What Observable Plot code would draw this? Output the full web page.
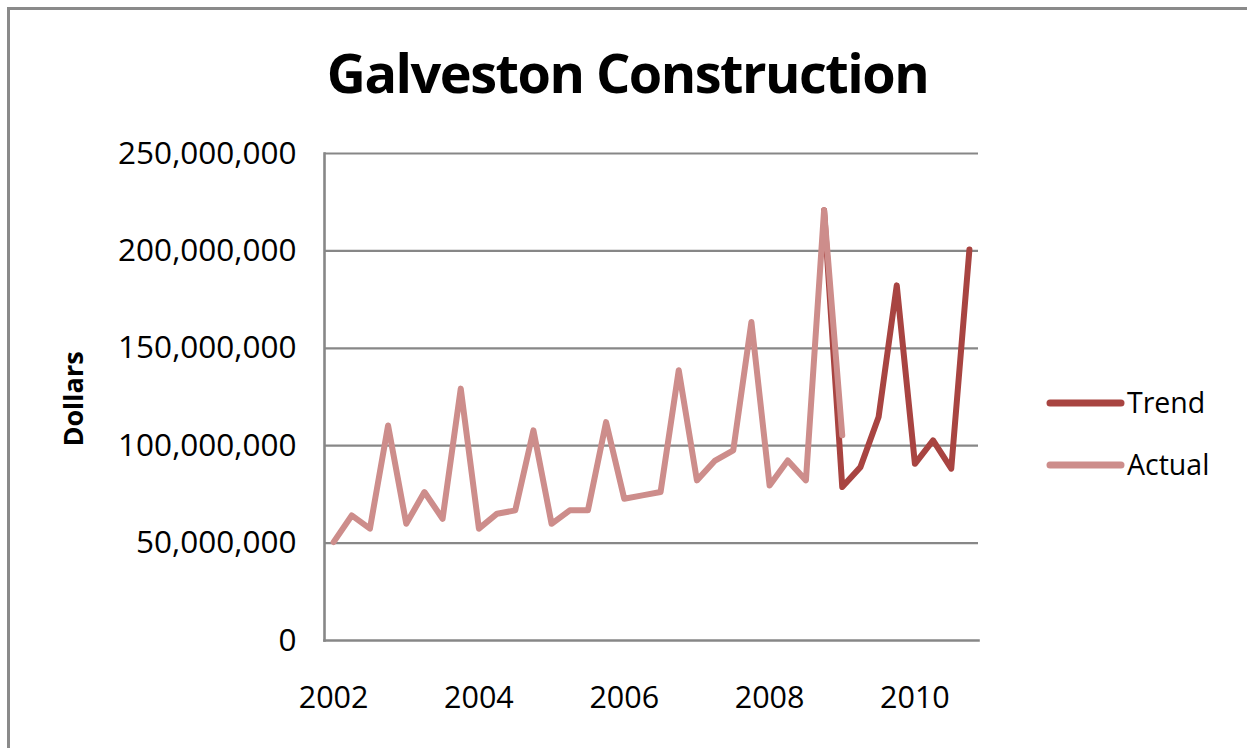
<!DOCTYPE html>
<html>
<head>
<meta charset="utf-8">
<script src="https://cdn.jsdelivr.net/npm/d3@7"></script>
<script src="https://cdn.jsdelivr.net/npm/@observablehq/plot@0.6"></script>
<style>
  html, body { margin: 0; padding: 0; background: #fff; }
  #chart { position: relative; width: 1247px; height: 748px; overflow: hidden; font-family: "Open Sans", sans-serif; }
  #border { position: absolute; left: 7px; top: 7px; width: 1300px; height: 800px; border-left: 3px solid #8a8a8a; border-top: 3px solid #8a8a8a; }
  #title { position: absolute; left: 0; width: 1255px; top: 35px; text-align: center; font-weight: 700; font-size: 54px; color: #000; letter-spacing: -1.5px; }
  #legend { position: absolute; left: 1040px; top: 371px; }
  #plot { position: absolute; left: 0; top: 0; }
</style>
</head>
<body>
<div id="chart">
  <div id="border"></div>
  <div id="plot"></div>
  <div id="title">Galveston Construction</div>
  <svg id="legend" width="200" height="120"></svg>
</div>
<script>
// Quarterly construction value in Galveston, in dollars (millions below)
const actualStart = 2002;          // first quarter of the Actual series: 2002 Q1
const actualMillions = [
  50.5, 64.2, 57.4, 110.4,
  59.9, 76.2, 62.5, 129.3,
  57.4, 65.1, 66.8, 107.9,
  59.9, 66.8, 66.8, 112.1,
  72.8, 74.5, 76.2, 138.7,
  82.2, 92.4, 97.6, 163.5,
  79.6, 92.4, 82.2, 220.9,
  105.3
];
const trendStart = 2008.75;        // Trend picks up at 2008 Q4
const trendMillions = [
  220.9, 78.8, 89.0, 114.7, 182.3, 90.7, 102.7, 88.2, 200.7
];
const yTicks = [0, 50e6, 100e6, 150e6, 200e6, 250e6];
const xTicks = [2002, 2004, 2006, 2008, 2010];
const seriesNames = ["Trend", "Actual"];
const seriesColors = ["#a84441", "#cd8d8b"];

const toRows = (start, values, series) =>
  values.map((v, i) => ({date: start + i / 4, value: v * 1e6, series}));
const actual = toRows(actualStart, actualMillions, "Actual");
const trend = toRows(trendStart, trendMillions, "Trend");

const font = "Open Sans";
const plot = Plot.plot({
  width: 1247,
  height: 748,
  marginLeft: 324,
  marginRight: 269,
  marginTop: 153,
  marginBottom: 108,
  style: {background: "transparent", fontFamily: font, color: "#000"},
  x: {domain: [2001.875, 2010.875]},
  y: {domain: [0, 250e6]},
  marks: [
    Plot.gridY(yTicks.slice(1), {stroke: "#878787", strokeOpacity: 1, strokeWidth: 2.2}),
    Plot.frame({anchor: "left", stroke: "#878787", strokeWidth: 2.6}),
    Plot.frame({anchor: "bottom", stroke: "#878787", strokeWidth: 2.6}),
    Plot.axisY({ticks: yTicks, tickFormat: d3.format(","), tickSize: 0, tickPadding: 28,
                fontSize: 31.5, label: null}),
    Plot.axisX({ticks: xTicks, tickFormat: d => String(d), tickSize: 0, tickPadding: 46,
                fontSize: 30.5, label: null}),
    Plot.text(["Dollars"], {frameAnchor: "left", dx: -250, dy: 2, rotate: -90,
                textAnchor: "middle", lineAnchor: "middle",
                fontSize: 27, fontWeight: "bold", fill: "#000"}),
    Plot.line(trend, {x: "date", y: "value", stroke: seriesColors[0], strokeWidth: 6,
                strokeLinecap: "round", strokeLinejoin: "round"}),
    Plot.line(actual, {x: "date", y: "value", stroke: seriesColors[1], strokeWidth: 6,
                strokeLinecap: "round", strokeLinejoin: "round"})
  ]
});
document.getElementById("plot").appendChild(plot);

// Legend: one swatch line and label per series
const legend = d3.select("#legend");
const item = legend.selectAll("g").data(seriesNames).join("g")
  .attr("transform", (d, i) => `translate(0, ${32 + i * 62})`);
item.append("line")
  .attr("x1", 10).attr("x2", 81).attr("y1", 0).attr("y2", 0)
  .attr("stroke", (d, i) => seriesColors[i])
  .attr("stroke-width", 7).attr("stroke-linecap", "round");
item.append("text")
  .attr("x", 87).attr("y", 0).attr("dy", "0.35em")
  .attr("font-family", font).attr("font-size", 28.5).attr("fill", "#000")
  .text(d => d);
</script>
</body>
</html>
